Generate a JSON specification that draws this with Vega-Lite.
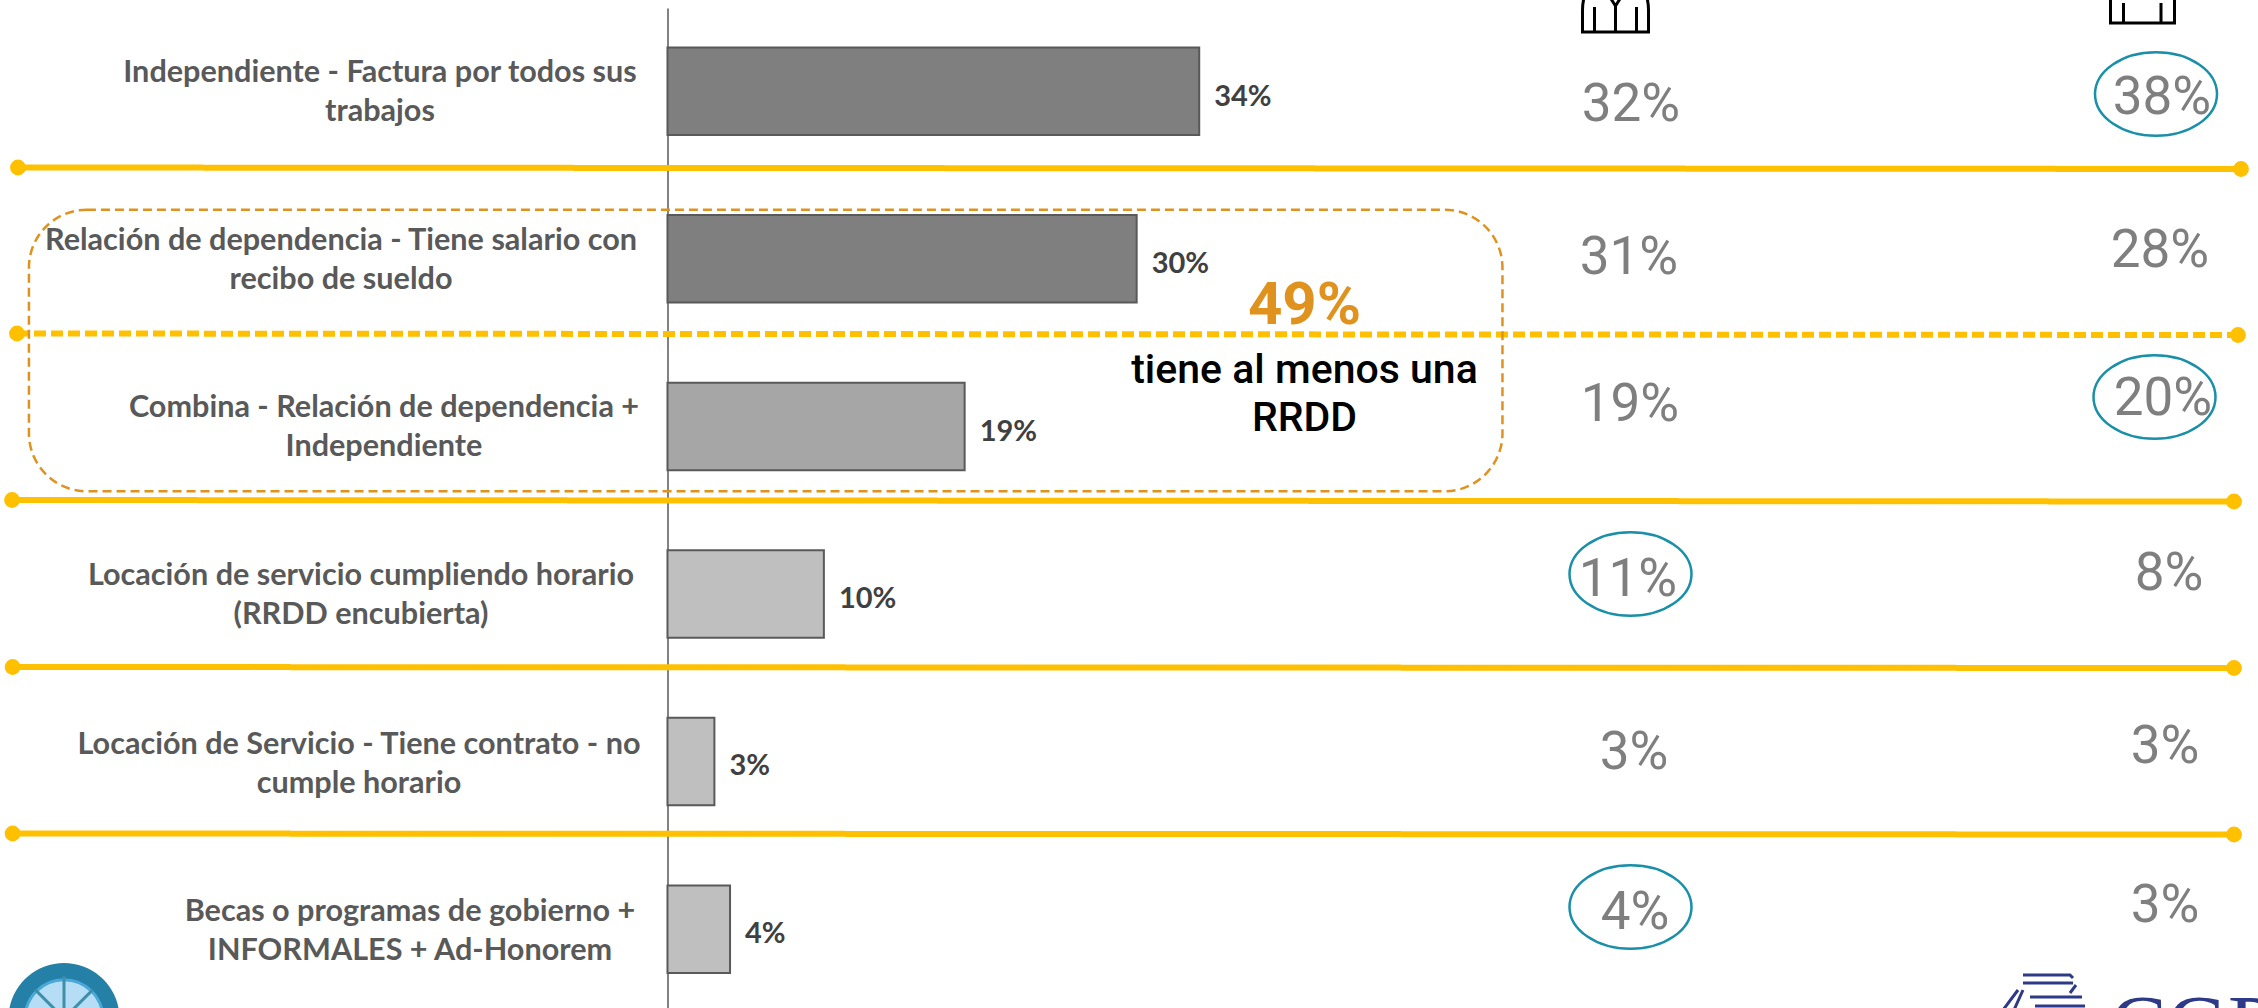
{"$schema":"https://vega.github.io/schema/vega-lite/v6.json","width":2258,"height":1008,"padding":0,"autosize":{"type":"none"},"background":"#ffffff","config":{"view":{"stroke":null}},"datasets":{"filas":[{"fila":1,"categoria":"Independiente - Factura por todos sus\ntrabajos","total":0.34},{"fila":2,"categoria":"Relación de dependencia - Tiene salario con\nrecibo de sueldo","total":0.30},{"fila":3,"categoria":"Combina - Relación de dependencia +\nIndependiente","total":0.19},{"fila":4,"categoria":"Locación de servicio cumpliendo horario\n(RRDD encubierta)","total":0.10},{"fila":5,"categoria":"Locación de Servicio - Tiene contrato - no\ncumple horario","total":0.03},{"fila":6,"categoria":"Becas o programas de gobierno +\nINFORMALES + Ad-Honorem","total":0.04}],"columnas":[{"fila":1,"grupo":"A","valor":0.32,"destacado":false},{"fila":2,"grupo":"A","valor":0.31,"destacado":false},{"fila":3,"grupo":"A","valor":0.19,"destacado":false},{"fila":4,"grupo":"A","valor":0.11,"destacado":true},{"fila":5,"grupo":"A","valor":0.03,"destacado":false},{"fila":6,"grupo":"A","valor":0.04,"destacado":true},{"fila":1,"grupo":"B","valor":0.38,"destacado":true},{"fila":2,"grupo":"B","valor":0.28,"destacado":false},{"fila":3,"grupo":"B","valor":0.20,"destacado":true},{"fila":4,"grupo":"B","valor":0.08,"destacado":false},{"fila":5,"grupo":"B","valor":0.03,"destacado":false},{"fila":6,"grupo":"B","valor":0.03,"destacado":false}],"separadores":[{"sep":1,"punto":1,"trazo":"solida"},{"sep":1,"punto":2,"trazo":"solida"},{"sep":2,"punto":3,"trazo":"punteada"},{"sep":2,"punto":4,"trazo":"punteada"},{"sep":3,"punto":5,"trazo":"solida"},{"sep":3,"punto":6,"trazo":"solida"},{"sep":4,"punto":7,"trazo":"solida"},{"sep":4,"punto":8,"trazo":"solida"},{"sep":5,"punto":9,"trazo":"solida"},{"sep":5,"punto":10,"trazo":"solida"}],"anotacion":[{"desde":2,"hasta":3,"valor":0.49,"texto":"tiene al menos una\nRRDD"}],"iconos":[{"grupo":"A"},{"grupo":"B"}],"logos":[{"logo":"izquierdo"},{"logo":"derecho","texto":"CGP"}]},"layer":[{"data":{"name":"filas"},"mark":{"type":"bar","stroke":"#595959","strokeWidth":2},"encoding":{"x":{"field":"total","type":"quantitative","axis":null,"scale":{"domain":[-0.4268,1.017],"range":[0,2258],"nice":false,"zero":false}},"y":{"field":"categoria","type":"nominal","sort":null,"axis":{"title":null,"labels":false,"ticks":false,"domain":true,"domainColor":"#595959","domainWidth":1.5,"offset":-667.5,"grid":false},"scale":{"range":[8,1012.4],"paddingInner":0.478,"paddingOuter":0.2357}},"fill":{"field":"categoria","type":"nominal","sort":null,"legend":null,"scale":{"range":["#7f7f7f","#7f7f7f","#a6a6a6","#bfbfbf","#bfbfbf","#bfbfbf"]}}}},{"data":{"name":"filas"},"mark":{"type":"text","align":"left","baseline":"middle","font":"Lato","fontWeight":"bold","fontSize":29,"color":"#404040","dx":15,"dy":5},"encoding":{"x":{"field":"total","type":"quantitative","axis":null,"scale":{"domain":[-0.4268,1.017],"range":[0,2258],"nice":false,"zero":false}},"y":{"field":"categoria","type":"nominal","sort":null,"axis":null,"scale":{"range":[8,1012.4],"paddingInner":0.478,"paddingOuter":0.2357}},"text":{"field":"total","type":"quantitative","format":".0%"}}},{"data":{"name":"filas"},"mark":{"type":"text","align":"center","baseline":"middle","font":"Lato","fontWeight":"bold","fontSize":30.6,"lineHeight":39,"color":"#595959","lineBreak":"\n","dy":-18},"encoding":{"x":{"field":"fila","type":"quantitative","axis":null,"scale":{"domain":[1,2,3,4,5,6],"range":[380,341,384,361,359,410]}},"y":{"field":"fila","type":"quantitative","axis":null,"scale":{"domain":[1,2,3,4,5,6],"range":[91,259,426,594,763,930]}},"text":{"field":"categoria","type":"nominal"}}},{"data":{"name":"separadores"},"mark":{"type":"line","color":"#FFC000","strokeWidth":6},"encoding":{"detail":{"field":"sep"},"x":{"field":"punto","type":"quantitative","axis":null,"scale":{"domain":[1,2,3,4,5,6,7,8,9,10],"range":[18,2241,17,2238,12,2234,12.6,2234,12.6,2234]}},"y":{"field":"punto","type":"quantitative","axis":null,"scale":{"domain":[1,2,3,4,5,6,7,8,9,10],"range":[167.5,169,333.5,335,500,501.5,667,668,833.5,834.5]}},"strokeDash":{"field":"trazo","type":"nominal","legend":null,"scale":{"domain":["solida","punteada"],"range":[[1,0],[12,5]]}}}},{"data":{"name":"separadores"},"mark":{"type":"circle","color":"#FFC000","size":250,"opacity":1},"encoding":{"x":{"field":"punto","type":"quantitative","axis":null,"scale":{"domain":[1,2,3,4,5,6,7,8,9,10],"range":[18,2241,17,2238,12,2234,12.6,2234,12.6,2234]}},"y":{"field":"punto","type":"quantitative","axis":null,"scale":{"domain":[1,2,3,4,5,6,7,8,9,10],"range":[167.5,169,333.5,335,500,501.5,667,668,833.5,834.5]}}}},{"data":{"name":"anotacion"},"mark":{"type":"rect","fillOpacity":0,"stroke":"#E0921E","strokeWidth":2.5,"strokeDash":[9,5],"cornerRadius":58},"encoding":{"x":{"datum":-0.4083,"type":"quantitative","axis":null,"scale":{"domain":[-0.4268,1.017],"range":[0,2258],"nice":false,"zero":false}},"x2":{"datum":0.5339},"y":{"field":"desde","type":"quantitative","axis":null,"scale":{"domain":[2,3],"range":[209.7,491.3]}},"y2":{"field":"hasta"}}},{"data":{"name":"anotacion"},"mark":{"type":"text","align":"center","baseline":"middle","font":"Roboto","fontWeight":"bold","fontSize":60,"letterSpacing":-2,"color":"#E0921E"},"encoding":{"x":{"datum":0.4073,"type":"quantitative","axis":null,"scale":{"domain":[-0.4268,1.017],"range":[0,2258],"nice":false,"zero":false}},"y":{"field":"valor","type":"quantitative","axis":null,"scale":{"domain":[0,0.49],"range":[0,306]}},"text":{"field":"valor","type":"quantitative","format":".0%"}}},{"data":{"name":"anotacion"},"mark":{"type":"text","align":"center","baseline":"middle","font":"Roboto","fontWeight":500,"fontSize":41,"lineHeight":48,"letterSpacing":3.4,"color":"#000000","lineBreak":"\n"},"encoding":{"x":{"datum":0.4073,"type":"quantitative","axis":null,"scale":{"domain":[-0.4268,1.017],"range":[0,2258],"nice":false,"zero":false}},"y":{"field":"valor","type":"quantitative","axis":null,"scale":{"domain":[0,0.49],"range":[0,371]}},"text":{"field":"texto","type":"nominal"}}},{"data":{"name":"columnas"},"transform":[{"filter":"datum.grupo === 'A'"}],"mark":{"type":"text","align":"center","baseline":"middle","font":"Roboto","fontSize":53,"fontWeight":400,"letterSpacing":-3,"dy":3,"color":"#7f7f7f"},"encoding":{"x":{"field":"fila","type":"quantitative","axis":null,"scale":{"domain":[1,2,3,4,5,6],"range":[1631,1629,1630,1628,1634,1635]}},"y":{"field":"fila","type":"quantitative","axis":null,"scale":{"domain":[1,2,3,4,5,6],"range":[102,255,402,577,750,910]}},"text":{"field":"valor","type":"quantitative","format":".0%"}}},{"data":{"name":"columnas"},"transform":[{"filter":"datum.grupo === 'B'"}],"mark":{"type":"text","align":"center","baseline":"middle","font":"Roboto","fontSize":53,"fontWeight":400,"letterSpacing":-3,"dy":2,"color":"#7f7f7f"},"encoding":{"x":{"field":"fila","type":"quantitative","axis":null,"scale":{"domain":[1,2,3,4,5,6],"range":[2162,2160,2163,2169,2165,2165]}},"y":{"field":"fila","type":"quantitative","axis":null,"scale":{"domain":[1,2,3,4,5,6],"range":[96,249,397,572,745,904]}},"text":{"field":"valor","type":"quantitative","format":".0%"}}},{"data":{"name":"columnas"},"transform":[{"filter":"datum.destacado && datum.grupo === 'A'"}],"mark":{"type":"point","shape":"M-1,0A1,0.686,0,1,0,1,0A1,0.686,0,1,0,-1,0Z","size":14884,"filled":false,"stroke":"#1A8FA8","strokeWidth":2.5,"opacity":1},"encoding":{"x":{"field":"fila","type":"quantitative","axis":null,"scale":{"domain":[4,6],"range":[1630.5,1630.5]}},"y":{"field":"fila","type":"quantitative","axis":null,"scale":{"domain":[4,6],"range":[574,907]}}}},{"data":{"name":"columnas"},"transform":[{"filter":"datum.destacado && datum.grupo === 'B'"}],"mark":{"type":"point","shape":"M-1,0A1,0.686,0,1,0,1,0A1,0.686,0,1,0,-1,0Z","size":14884,"filled":false,"stroke":"#1A8FA8","strokeWidth":2.5,"opacity":1},"encoding":{"x":{"field":"fila","type":"quantitative","axis":null,"scale":{"domain":[1,3],"range":[2156,2154.5]}},"y":{"field":"fila","type":"quantitative","axis":null,"scale":{"domain":[1,3],"range":[94,397]}}}},{"data":{"name":"iconos"},"mark":{"type":"point","size":10000,"filled":false,"stroke":"#000000","strokeWidth":3,"opacity":1},"encoding":{"x":{"field":"grupo","type":"nominal","axis":null,"scale":{"type":"point","padding":0,"domain":["A","B"],"range":[1615.5,2142.5]}},"y":{"value":0},"shape":{"field":"grupo","type":"nominal","legend":null,"scale":{"domain":["A","B"],"range":["M-0.58,-0.2Q-0.66,0,-0.66,0.2L-0.66,0.64L0.66,0.64L0.66,0.2Q0.66,0,0.58,-0.2M-0.42,0.14L-0.42,0.64M0,0.12L0,0.64M0.42,0.14L0.42,0.64M-0.1,-0.04L0,0.12L0.1,-0.04","M-0.64,-0.2L-0.64,0.46L0.64,0.46L0.64,-0.2M-0.38,0.06L-0.38,0.46M0.37,0.06L0.37,0.46"]}}}},{"data":{"name":"logos"},"transform":[{"filter":"datum.logo === 'izquierdo'"}],"layer":[{"mark":{"type":"point","shape":"M-1,0A1,1,0,1,0,1,0A1,1,0,1,0,-1,0Z","size":12321,"filled":true,"fill":"#2480A6","stroke":null,"opacity":1}},{"mark":{"type":"point","shape":"M-0.7,0A0.7,0.7,0,1,0,0.7,0A0.7,0.7,0,1,0,-0.7,0Z","size":12321,"filled":true,"fill":"#B5DDF5","stroke":"#4AA8D8","strokeWidth":3,"opacity":1}},{"mark":{"type":"point","shape":"M0,-0.76L0,1M-0.52,-0.52L0.52,0.52M0.52,-0.52L-0.52,0.52","size":12321,"filled":false,"stroke":"#3F8FA8","strokeWidth":3,"opacity":1}}],"encoding":{"x":{"field":"logo","type":"nominal","axis":null,"scale":{"type":"point","padding":0,"domain":["izquierdo","derecho"],"range":[64,2045]}},"y":{"field":"logo","type":"nominal","axis":null,"scale":{"type":"point","padding":0,"domain":["izquierdo","derecho"],"range":[1018.5,1000]}}}},{"data":{"name":"logos"},"transform":[{"filter":"datum.logo === 'derecho'"}],"mark":{"type":"point","shape":"M-0.44,-0.5L0.5,-0.5L0.56,-0.44M-0.44,-0.34L0.56,-0.34M-0.3,-0.06L0.74,-0.06M-0.2,0.12L0.8,0.12M-0.54,-0.2L-0.84,0.2M-0.44,-0.2L-0.62,0.2M0.5,-0.14L0.62,-0.3","size":10000,"filled":false,"stroke":"#2E3A87","strokeWidth":3,"opacity":1},"encoding":{"x":{"field":"logo","type":"nominal","axis":null,"scale":{"type":"point","padding":0,"domain":["izquierdo","derecho"],"range":[64,2045]}},"y":{"field":"logo","type":"nominal","axis":null,"scale":{"type":"point","padding":0,"domain":["izquierdo","derecho"],"range":[1018.5,1000]}}}},{"data":{"name":"logos"},"transform":[{"filter":"datum.logo === 'derecho'"}],"mark":{"type":"text","align":"left","baseline":"alphabetic","font":"Liberation Serif","fontSize":85,"color":"#2E3A87"},"encoding":{"x":{"field":"logo","type":"nominal","axis":null,"scale":{"type":"point","padding":0,"domain":["izquierdo","derecho"],"range":[64,2110]}},"y":{"field":"logo","type":"nominal","axis":null,"scale":{"type":"point","padding":0,"domain":["izquierdo","derecho"],"range":[1018.5,1054]}},"text":{"field":"texto","type":"nominal"}}}],"resolve":{"scale":{"x":"independent","y":"independent","fill":"independent","strokeDash":"independent","shape":"independent"}}}
